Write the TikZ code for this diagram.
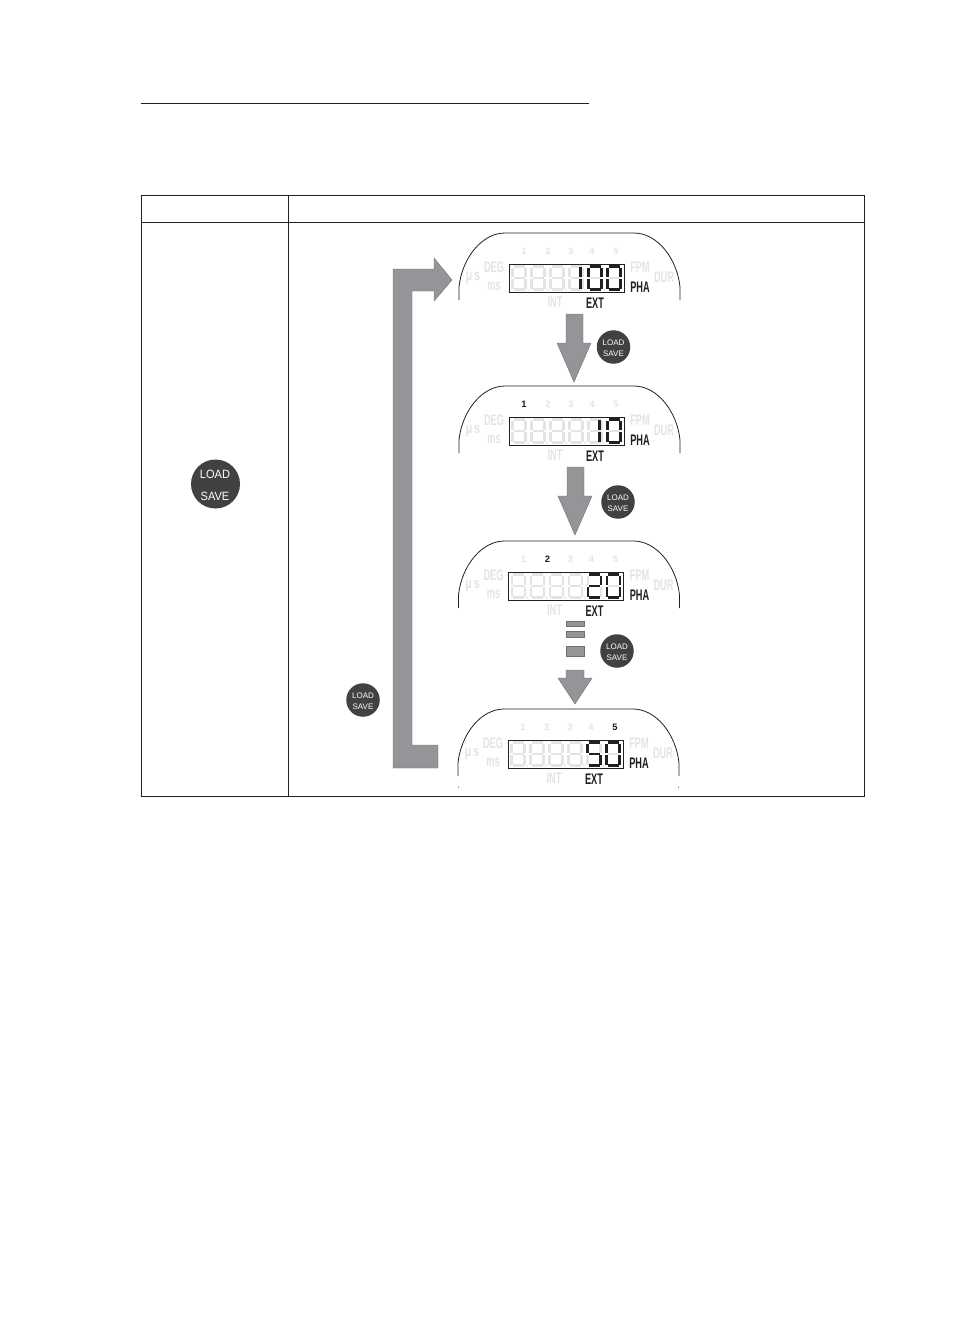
\documentclass[tikz,border=0pt]{standalone}
\usepackage{fontspec}
\setmainfont{Liberation Sans}
\definecolor{ghost}{HTML}{E4E4E4}
\definecolor{ink}{HTML}{231F20}
\definecolor{arrowgray}{HTML}{939598}
\definecolor{btn}{HTML}{414042}
\tikzset{
  rule/.style={draw=ink,line width=0.75pt},
  bigarrow/.style={fill=arrowgray,draw=arrowgray!75!black,line width=0.3pt},
  lcdlabel/.style={inner sep=0,font=\fontsize{11.5}{12}\selectfont\bfseries,text=ghost,transform shape,xscale=0.6},
  lcdon/.style={lcdlabel,text=ink},
  idx/.style={inner sep=0,font=\fontsize{7}{8}\selectfont\bfseries,text=ghost},
  idxon/.style={idx,text=ink},
  btntext/.style={inner sep=0,text=white},
}
% seven-segment digit: x-left, y-top, colour, width, segments
\newcommand{\segdigit}[5]{%
  \begin{scope}[shift={(#1,#2)},draw=#3,line width=#4,line cap=butt]
    \foreach \s in {#5}{%
      \ifcase\s
        \draw (1.5,0.5) -- (12.5,0.5);\or
        \draw (13.5,1.5) -- (13.5,11);\or
        \draw (13.5,13) -- (13.5,22.5);\or
        \draw (1.5,23.5) -- (12.5,23.5);\or
        \draw (0.5,13) -- (0.5,22.5);\or
        \draw (0.5,1.5) -- (0.5,11);\or
        \draw (1.5,12) -- (12.5,12);\or
        \draw (11.5,13) -- (11.5,23) (11.5,1) -- (11.5,11);
      \fi}%
  \end{scope}}
\newcommand{\lcdpanel}[4]{% name, dx, dy, body
  \begin{scope}[shift={(#2,#3)}]
    \draw[ink,line width=0.6pt] (459,300) -- (459,287)
      .. controls (462,258) and (482,233) .. (505,233)
      -- (634,233) .. controls (657,233) and (677,258) .. (680,287) -- (680,300);
    \foreach \xx in {512,531,550,569,588,607}{%
      \segdigit{\xx}{266}{ghost}{2pt}{0,1,2,3,4,5,6}}
    \foreach \xx in {528,547,566,585,604}{%
      \fill[ghost] (\xx,290) circle (1.1);}
    \node[idx] (#1n1) at (524,251) {1};
    \node[idx] (#1n2) at (548,251) {2};
    \node[idx] (#1n3) at (571,251) {3};
    \node[idx] (#1n4) at (592,251) {4};
    \node[idx] (#1n5) at (616,251) {5};
    \node[lcdlabel,xscale=1.2] (#1us) at (473,278) {µ\,s};
    \node[lcdlabel] (#1deg) at (494,267) {DEG};
    \node[lcdlabel] (#1ms) at (494,286) {ms};
    \node[lcdlabel] (#1int) at (555,302) {INT};
    \node[lcdlabel] (#1fpm) at (640,267) {FPM};
    \node[lcdlabel] (#1dur) at (664,277) {DUR};
    \node[lcdon] (#1pha) at (640,287) {PHA};
    \node[lcdon] (#1ext) at (595,303) {EXT};
    #4
    \draw[ink,line width=0.6pt] (509,264.5) rectangle (624,292.5);
  \end{scope}}
\newcommand{\loadsave}[2]{% name, position
  \node[circle,fill=btn,minimum size=33.5*0.75pt,inner sep=0] (#1) at (#2) {};
  \node[btntext,font=\fontsize{6}{7}\selectfont] at ([yshift=4.7*0.75pt]#1.center) {LOAD};
  \node[btntext,font=\fontsize{6}{7}\selectfont] at ([yshift=-6.3*0.75pt]#1.center) {SAVE};}
\begin{document}
\begin{tikzpicture}[x=0.75pt,y=-0.75pt]
\useasboundingbox (0,0) rectangle (954,1342);
\fill[white] (0,0) rectangle (954,1342);
% heading rule and table
\draw[rule] (141,103.5) -- (589,103.5);
\draw[rule] (141.5,195.5) rectangle (864.5,796.5);
\draw[rule] (141.5,222.5) -- (864.5,222.5);
\draw[rule] (288.5,195.5) -- (288.5,796.5);
% large button
\node[circle,fill=btn,minimum size=49*0.75pt,inner sep=0] (mainbtn) at (215.5,484) {};
\node[btntext,font=\fontsize{9}{10}\selectfont,transform shape,xscale=0.92] at (215,474.5) {LOAD};
\node[btntext,font=\fontsize{9}{10}\selectfont,transform shape,xscale=0.92] at (215,496.5) {SAVE};
% panels
\lcdpanel{a}{0}{0}{%
  \segdigit{588}{266}{ink}{1.7pt}{0,1,2,3,4,5}
  \segdigit{607}{266}{ink}{1.7pt}{0,1,2,3,4,5}
  \segdigit{569}{266}{ink}{1.7pt}{7}}
\lcdpanel{b}{0}{153}{%
  \node[idxon] at (524,251) {1};
  \segdigit{607}{266}{ink}{1.7pt}{0,1,2,3,4,5}
  \segdigit{588}{266}{ink}{1.7pt}{7}}
\lcdpanel{c}{-0.5}{308}{%
  \node[idxon] at (548,251) {2};
  \segdigit{607}{266}{ink}{1.7pt}{0,1,2,3,4,5}
  \segdigit{588}{266}{ink}{1.7pt}{0,1,6,4,3}}
\lcdpanel{d}{-1}{476}{%
  \node[idxon] at (616,251) {5};
  \segdigit{607}{266}{ink}{1.7pt}{0,1,2,3,4,5}
  \segdigit{588}{266}{ink}{1.7pt}{0,5,6,2,3}}
\fill[ink] (458.5,787) circle (0.5) (678.5,787) circle (0.5);
% arrows
\draw[bigarrow] (566,314) -- (583,314) -- (583,343) -- (591,343) -- (574,382) -- (557,343) -- (566,343) -- cycle;
\draw[bigarrow] (567,467) -- (584,467) -- (584,496) -- (592,496) -- (575,535) -- (558,496) -- (567,496) -- cycle;
\draw[bigarrow] (566,621) rectangle (584,626);
\draw[bigarrow] (566,631) rectangle (584,637);
\draw[bigarrow] (566,646) rectangle (584,656);
\draw[bigarrow] (566,670) -- (584,670) -- (584,678) -- (592,678) -- (575,704) -- (558,678) -- (566,678) -- cycle;
\draw[bigarrow] (393,768) -- (393,269) -- (434,269) -- (434,258) -- (452,280) -- (434,301) -- (434,291) -- (412,291) -- (412,745) -- (438,745) -- (438,768) -- cycle;
% small buttons
\loadsave{b1}{613.5,347}
\loadsave{b2}{618,502}
\loadsave{b3}{617,651}
\loadsave{b4}{363,700}
\end{tikzpicture}
\end{document}
